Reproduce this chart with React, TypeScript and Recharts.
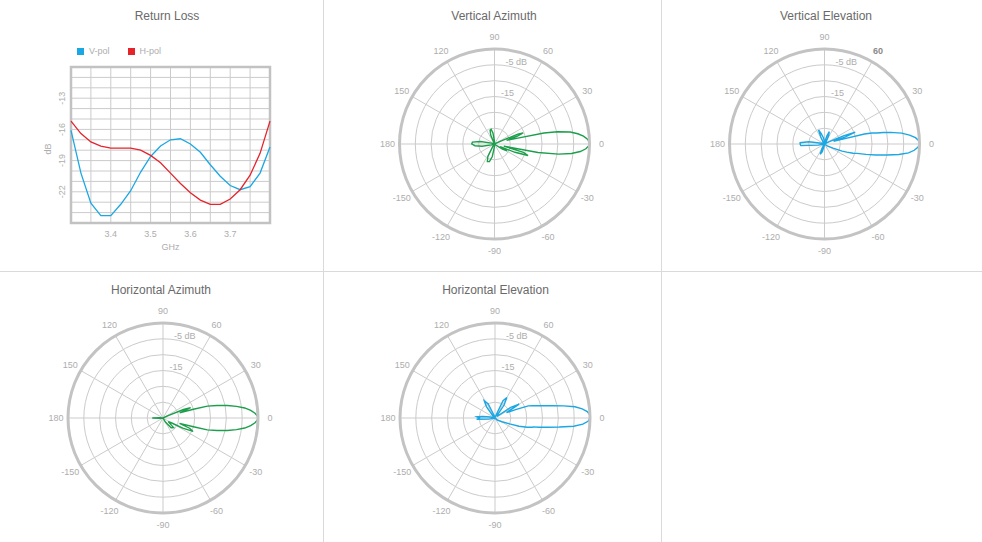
import {
  LineChart,
  Line,
  XAxis,
  YAxis,
  CartesianGrid,
  Legend,
  ReferenceArea,
  RadarChart,
  Radar,
  PolarGrid,
  PolarAngleAxis,
  PolarRadiusAxis,
} from 'recharts';

const FONT = '"Liberation Sans", Arial, Helvetica, sans-serif';
const GREEN = '#1c9e4b';
const BLUE = '#1ba7e3';
const RED = '#e6232b';
const LABEL = '#adadad';
const TITLE = '#6a6a6a';
const GRID = '#cbcbcb';

// Return loss (GHz / dB)
const freqGHz = [3.3, 3.325, 3.35, 3.375, 3.4, 3.425, 3.45, 3.475, 3.5, 3.525, 3.55, 3.575, 3.6, 3.625, 3.65, 3.675, 3.7, 3.725, 3.75, 3.775, 3.8];
const vPolDb = [-16.1, -20.2, -23.1, -24.3, -24.3, -23.2, -21.9, -20.1, -18.6, -17.6, -17.0, -16.9, -17.4, -18.2, -19.4, -20.5, -21.4, -21.8, -21.5, -20.2, -17.7];
const hPolDb = [-15.2, -16.4, -17.2, -17.6, -17.8, -17.8, -17.8, -18.0, -18.5, -19.2, -20.2, -21.2, -22.1, -22.8, -23.2, -23.2, -22.7, -21.8, -20.4, -18.3, -15.2];
const freqGrid = ['3.3', '3.35', '3.4', '3.45', '3.5', '3.55', '3.6', '3.65', '3.7', '3.75', '3.8'];
const freqLabels = ['3.4', '3.5', '3.6', '3.7'];
const dbGrid = [-25, -24, -23, -22, -21, -20, -19, -18, -17, -16, -15, -14, -13, -12, -11, -10];
const dbLabels = [-22, -19, -16, -13];
const legendOrder = ['V-pol', 'H-pol'];

// Antenna patterns (degrees / dB)
const vaAngle = [-180, -175, -170, -163, -150, -132, -125, -118, -112, -106, -100, -93, -85, -60, -42, -33, -29, -25, -22, -19, -16, -13, -11, -9, -7, -5, -3, -1, 1, 3, 5, 7, 9, 11, 12.5, 14, 17, 19, 21, 23, 25, 30, 60, 85, 92, 98, 103, 108, 113, 120, 150, 160, 165, 170, 175, 180];
const vaGain = [-22.8, -23.8, -26, -29, -30, -30, -29, -25.5, -24, -24.2, -26, -29, -30, -30, -29.5, -27, -25.5, -28, -23, -18.8, -20.5, -27, -16, -9.5, -5.5, -2.8, -1.1, -0.2, 0, -0.6, -1.8, -3.5, -5.8, -9.8, -14, -22, -26, -22.5, -20.3, -22, -28, -30, -30, -30, -29, -26.5, -25.2, -25.5, -27, -30, -30, -30, -29, -25.5, -23, -22.8];

const veAngle = [-180, -176, -170, -160, -140, -120, -113, -106, -98, -80, -50, -35, -26, -22, -20, -18, -16, -14, -12, -10, -8, -6, -4, -2, 0, 2, 4, 6, 8, 10, 11, 12, 13, 14, 15, 17, 19, 21, 23, 26, 35, 55, 64, 69, 74, 85, 100, 108, 113, 118, 130, 150, 165, 172, 177, 180];
const veGain = [-22.3, -22.5, -28, -30, -30, -28.5, -26.5, -27.5, -29.5, -30, -30, -29, -27, -24, -22.5, -20.5, -19.3, -16.5, -13.4, -10, -6.3, -3.3, -1.6, -0.5, 0, -0.2, -1.2, -3, -5.4, -8.8, -11, -13.2, -14.6, -17, -24, -27, -23, -19.6, -23.5, -28.5, -30, -29, -27, -25.8, -27.5, -29.5, -28, -26.5, -25.2, -27.5, -29.5, -30, -29, -25, -22.3, -22.3];

const haAngle = [-180, -176, -160, -120, -75, -60, -50, -42, -35, -30, -27, -24, -21, -18, -16, -15, -13, -11, -9, -7, -5, -3, -1, 1, 3, 5, 7, 9, 11, 13, 15, 16, 17, 18.5, 20.5, 22.5, 25, 30, 60, 120, 160, 176, 180];
const haGain = [-26.6, -29, -30, -30, -30, -28.5, -26, -25.5, -28, -27, -23, -19.6, -21, -24.5, -20, -15.5, -12.5, -9.3, -6.5, -4, -2.2, -0.9, -0.1, -0.1, -0.9, -2.2, -4, -6.5, -9.3, -12.5, -15.5, -20, -24.5, -23, -20.7, -23, -28, -30, -30, -30, -30, -29, -26.6];

const heAngle = [-180, -176, -170, -150, -120, -90, -60, -40, -28, -22, -19, -16, -14, -13, -12, -10, -8, -6, -4, -2, 0, 2, 4, 6, 8, 10, 12, 14, 16, 18, 20, 22, 25, 30, 34, 38, 45, 50, 55, 60, 65, 70, 85, 105, 110, 116, 122, 127, 133, 150, 168, 173, 176, 180];
const heGain = [-25, -24.2, -28, -30, -30, -30, -30, -29, -27.5, -25, -22, -19.4, -17.9, -17.5, -15.9, -13.1, -9.5, -5, -2.2, -0.6, 0, -0.1, -0.8, -2.3, -4.5, -8, -11.4, -14, -15.9, -17.4, -18.8, -23, -26, -21.2, -24, -29, -29, -29, -25, -22.5, -24, -29, -30, -29.5, -29, -25, -23.6, -25.5, -29, -30, -28.5, -26, -24.2, -25];

const angleTicks = [-150, -120, -90, -60, -30, 0, 30, 60, 90, 120, 150, 180];
const ringTicks = [-30, -25, -20, -15, -10, -5, 0];
const ringLabels: Record<string, string> = { '-5': '-5 dB', '-15': '-15' };

const returnLossData = freqGHz.map((f, i) => ({ f, v: vPolDb[i], h: hPolDb[i] }));

const DbTick = (props: any) => {
  const { x, y, payload } = props;
  if (!dbLabels.includes(payload.value)) return <g />;
  const tx = x - 1;
  return (
    <text x={tx} y={y} transform={`rotate(-90 ${tx} ${y})`} textAnchor="middle" dominantBaseline="central"
      fontSize={9} fill={LABEL} fontFamily={FONT}>
      {payload.value}
    </text>
  );
};

const DbLabel = (props: any) => {
  const { viewBox } = props;
  const cy = viewBox.y + viewBox.height / 2 + 4;
  return (
    <text x={48} y={cy} transform={`rotate(-90 48 ${cy})`} textAnchor="middle" dominantBaseline="central"
      fontSize={9} fill={LABEL} fontFamily={FONT}>dB</text>
  );
};

const LegendContent = (props: any) => {
  const items = [...props.payload].sort((a: any, b: any) => legendOrder.indexOf(a.value) - legendOrder.indexOf(b.value));
  return (
    <div style={{ display: 'flex', fontFamily: FONT, fontSize: 9, color: LABEL, lineHeight: '10px' }}>
      {items.map((p: any) => (
        <div key={p.value} style={{ display: 'flex', alignItems: 'center', marginRight: 18 }}>
          <span style={{ display: 'inline-block', width: 7, height: 7, background: p.color, marginRight: 5 }} />
          {p.value}
        </div>
      ))}
    </div>
  );
};

const AngleTick = (props: any) => {
  const { x, y, payload, bold } = props;
  const isBold = bold === payload.value;
  return (
    <text x={x} y={y} textAnchor="middle" dominantBaseline="central" fontSize={9} fontFamily={FONT}
      fill={isBold ? '#8a8a8a' : LABEL} fontWeight={isBold ? 'bold' : 'normal'}>
      {payload.value}
    </text>
  );
};

const RingTick = (props: any) => {
  const { x, y, payload } = props;
  const label = ringLabels[String(payload.value)];
  if (!label) return <g />;
  return (
    <text x={x} y={y - 1} textAnchor="start" fontSize={9} fontFamily={FONT} fill={LABEL}>{label}</text>
  );
};

const Title = ({ text, cx, top }: { text: string; cx: number; top: number }) => (
  <div style={{ position: 'absolute', left: cx - 100, top, width: 200, textAlign: 'center', fontFamily: FONT, fontSize: 12, lineHeight: '12px', color: TITLE }}>
    {text}
  </div>
);

interface PatternProps {
  title: string;
  angles: number[];
  gains: number[];
  color: string;
  left: number;
  top: number;
  width: number;
  cx: number;
  cy: number;
  titleX: number;
  boldTick?: number;
}

const Pattern = ({ title, angles, gains, color, left, top, width, cx, cy, titleX, boldTick }: PatternProps) => {
  const data = angles.map((a, i) => ({ angle: a, gain: gains[i] }));
  return (
    <div style={{ position: 'absolute', left, top, width, height: 270 }}>
      <Title text={title} cx={titleX} top={top === 0 ? 10 : 12} />
      <RadarChart width={width} height={270} cx={cx} cy={cy} outerRadius={95} startAngle={-180} endAngle={180}
        data={data} margin={{ top: 0, right: 0, bottom: 0, left: 0 }}>
        <PolarGrid gridType="circle" stroke={GRID} strokeWidth={1} />
        <PolarAngleAxis dataKey="angle" type="number" domain={[-180, 180]} ticks={angleTicks}
          axisLineType="circle" axisLine={{ stroke: '#c3c3c3', strokeWidth: 3 }} tickLine={false} tickSize={12}
          tick={<AngleTick bold={boldTick} />} />
        <PolarRadiusAxis type="number" domain={[-30, 0]} ticks={ringTicks} angle={82} axisLine={false}
          tick={<RingTick />} />
        <Radar dataKey="gain" stroke={color} strokeWidth={1.4} fill="none" fillOpacity={0}
          isAnimationActive={false} dot={false} />
      </RadarChart>
    </div>
  );
};

const App = () => (
  <div style={{ position: 'absolute', left: 0, top: 0, width: 982, height: 542, background: '#fff', overflow: 'hidden' }}>
    <div style={{ position: 'absolute', left: 323, top: 0, width: 1, height: 542, background: '#dadada' }} />
    <div style={{ position: 'absolute', left: 661, top: 0, width: 1, height: 542, background: '#dadada' }} />
    <div style={{ position: 'absolute', left: 0, top: 271, width: 982, height: 1, background: '#dadada' }} />

    <div style={{ position: 'absolute', left: 0, top: 0, width: 323, height: 270 }}>
      <Title text="Return Loss" cx={167} top={10} />
      <LineChart width={323} height={270} data={returnLossData} margin={{ top: 67, right: 53, bottom: 17, left: 0 }}>
        <CartesianGrid stroke={GRID} strokeWidth={1} />
        <XAxis dataKey="f" type="number" domain={[3.3, 3.8]} ticks={freqGrid.map(Number)} height={30}
          axisLine={false} tickLine={false} interval={0}
          tickFormatter={(v: number) => (freqLabels.includes(String(+v.toFixed(2))) ? v.toFixed(1) : '')}
          tick={{ fill: LABEL, fontSize: 9, fontFamily: FONT }}
          label={{ value: 'GHz', position: 'insideBottom', offset: 3, fill: LABEL, fontSize: 9, fontFamily: FONT }} />
        <YAxis type="number" domain={[-25, -10]} ticks={dbGrid} width={71} axisLine={false} tickLine={false}
          interval={0} tick={<DbTick />} label={<DbLabel />} />
        <ReferenceArea x1={3.3} x2={3.8} y1={-25} y2={-10} fill="none" stroke="#c2c2c2" strokeWidth={2.5} />
        <Legend layout="vertical" align="center" verticalAlign="middle" content={<LegendContent />}
          wrapperStyle={{ left: 77, top: 46, width: 160 }} />
        <Line name="V-pol" dataKey="v" stroke={BLUE} strokeWidth={1.3} dot={false} isAnimationActive={false} />
        <Line name="H-pol" dataKey="h" stroke={RED} strokeWidth={1.3} dot={false} isAnimationActive={false} />
      </LineChart>
    </div>

    <Pattern title="Vertical Azimuth" angles={vaAngle} gains={vaGain} color={GREEN}
      left={324} top={0} width={337} cx={170.5} cy={144} titleX={170} />
    <Pattern title="Vertical Elevation" angles={veAngle} gains={veGain} color={BLUE}
      left={662} top={0} width={320} cx={162.5} cy={144} titleX={164} boldTick={60} />
    <Pattern title="Horizontal Azimuth" angles={haAngle} gains={haGain} color={GREEN}
      left={0} top={272} width={323} cx={163} cy={146} titleX={161} />
    <Pattern title="Horizontal Elevation" angles={heAngle} gains={heGain} color={BLUE}
      left={324} top={272} width={337} cx={171} cy={146} titleX={171.5} />
  </div>
);

export default App;
